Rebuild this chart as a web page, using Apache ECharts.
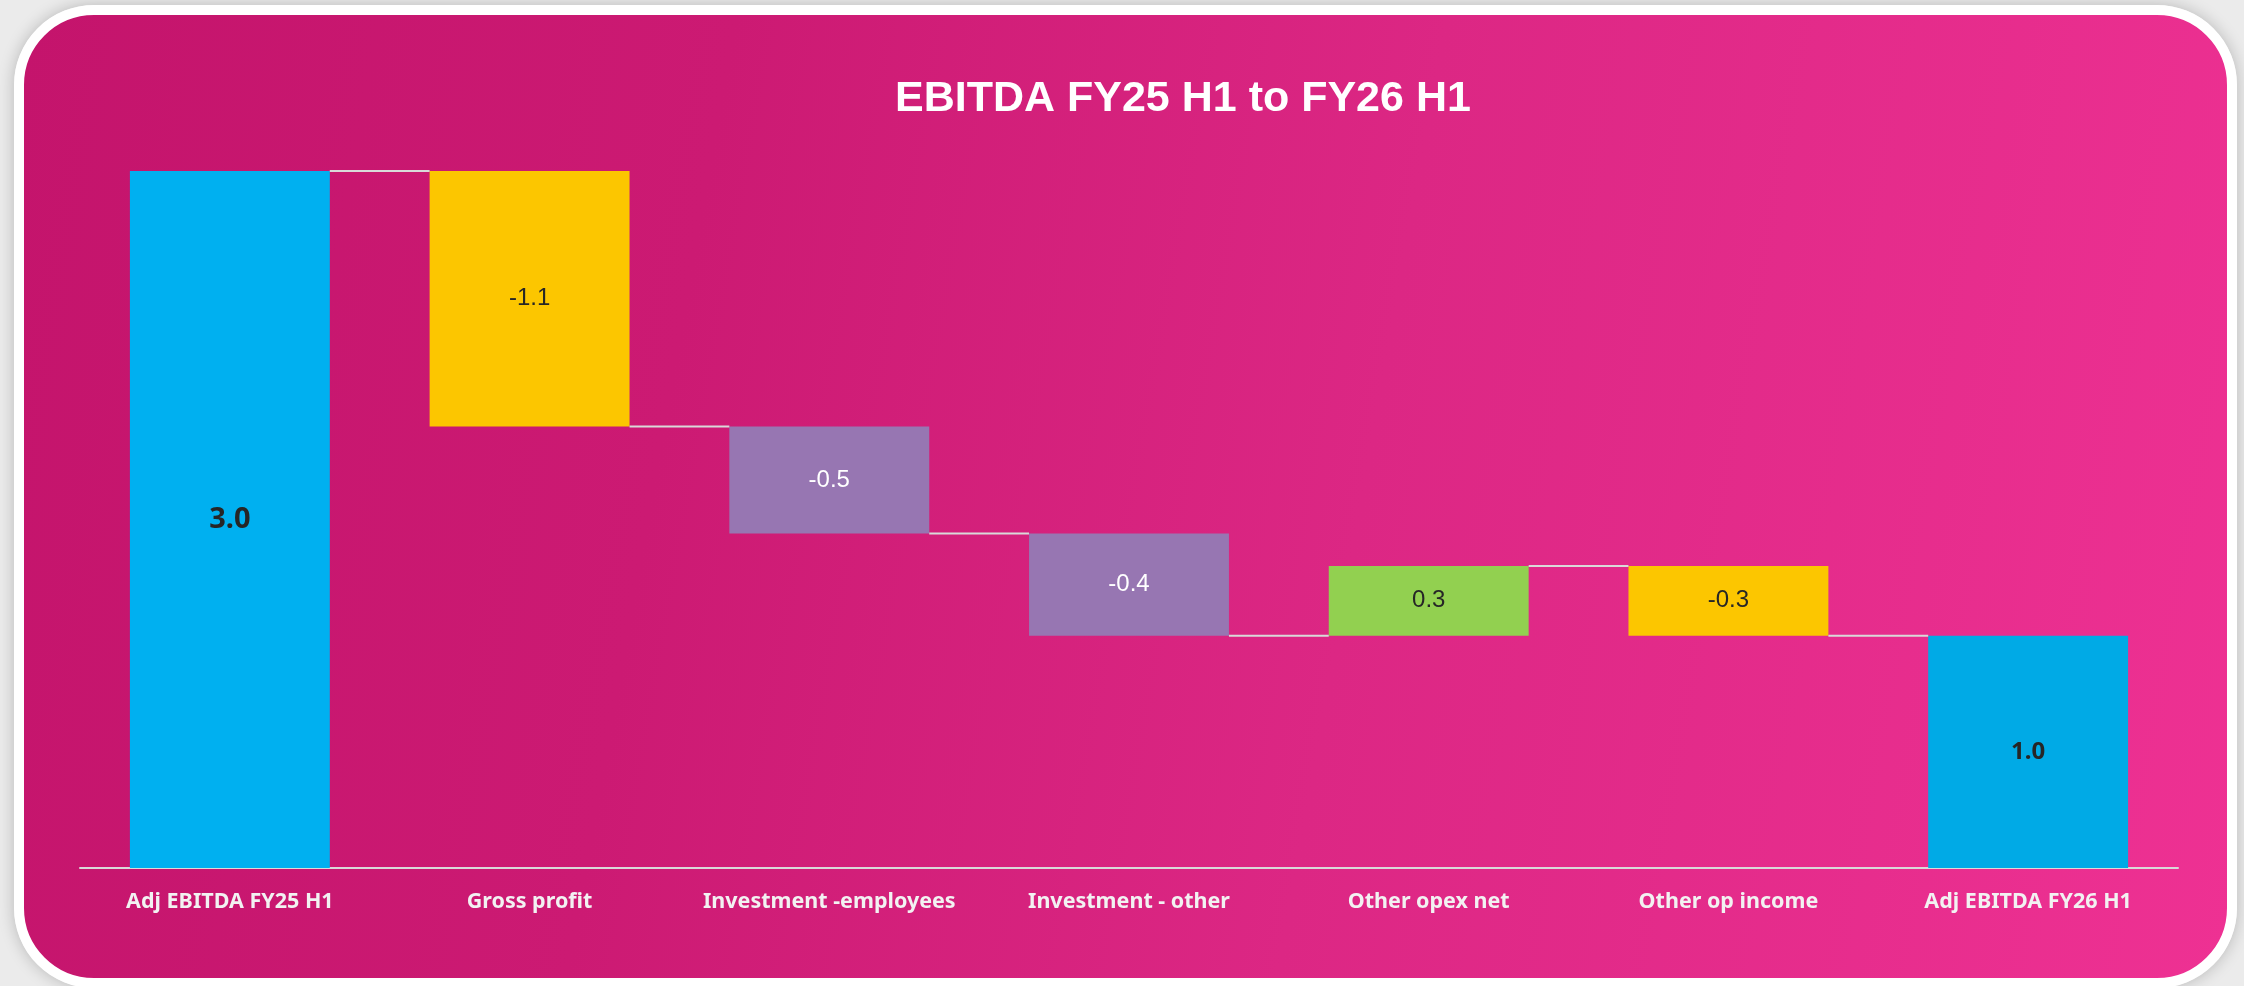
<!DOCTYPE html>
<html>
<head>
<meta charset="utf-8">
<title>EBITDA FY25 H1 to FY26 H1</title>
<script src="https://cdn.jsdelivr.net/npm/echarts@6/dist/echarts.min.js"></script>
<style>
  html, body { margin: 0; padding: 0; width: 2244px; height: 986px; overflow: hidden; background: #ebebeb; }
  .card {
    position: absolute; left: 14px; top: 5px; width: 2203px; height: 963px;
    border: 10px solid #fff; border-radius: 80px;
    background: linear-gradient(100deg, #c4146c 0%, #cc1a73 30%, #dc2784 60%, #ee3193 100%);
    box-shadow: 0 0 16px rgba(0, 0, 0, 0.22);
  }
  #chart { position: absolute; left: 0; top: 0; width: 2244px; height: 986px; }
</style>
</head>
<body>
<div class="card"></div>
<div id="chart"></div>
<script>
// waterfall data (first and last are totals, the rest are changes)
const categories = ['Adj EBITDA FY25 H1', 'Gross profit', 'Investment -employees', 'Investment - other', 'Other opex net', 'Other op income', 'Adj EBITDA FY26 H1']
const values = [3.0, -1.1, -0.46, -0.44, 0.30, -0.30, 1.0]
const isTotal = [true, false, false, false, false, false, true]

const barColors = ['#00b0f0', '#fcc600', '#9776b2', '#9776b2', '#92d050', '#fcc600', '#00aae6']
const labelColors = ['#262626', '#262626', '#ffffff', '#ffffff', '#262626', '#262626', '#262626']

// build invisible base + visible part, and connector levels
const base = []
const heights = []
const levels = []
let running = 0
values.forEach((v, i) => {
  if (isTotal[i]) {
    base.push(0)
    heights.push(v)
    running = v
  } else if (v < 0) {
    base.push(running + v)
    heights.push(-v)
    running += v
  } else {
    base.push(running)
    heights.push(v)
    running += v
  }
  levels.push(running)
})

const barData = heights.map((h, i) => {
  const bold = isTotal[i]
  return {
    value: h,
    itemStyle: { color: barColors[i] },
    label: {
      color: labelColors[i],
      fontWeight: bold ? 'bold' : 'normal',
      fontSize: i === 0 ? 29 : 24,
      fontFamily: bold ? 'Noto Sans' : 'Liberation Sans'
    }
  }
})

const connectors = levels.slice(0, -1).map((l, i) => [i, l])

const chart = echarts.init(document.getElementById('chart'))
chart.setOption({
  backgroundColor: 'transparent',
  animation: false,
  title: {
    text: 'EBITDA FY25 H1 to FY26 H1',
    left: 895,
    top: 78,
    padding: 0,
    textStyle: { color: '#ffffff', fontSize: 43, fontWeight: 'bold', fontFamily: 'Liberation Sans' }
  },
  grid: { left: 80, right: 66, top: 171, bottom: 118 },
  xAxis: {
    type: 'category',
    data: categories,
    axisLine: { lineStyle: { color: '#d9d9d9', width: 2 } },
    axisTick: { show: false },
    axisLabel: {
      color: '#f2f2f2',
      fontFamily: 'Noto Sans',
      fontWeight: 'bold',
      fontSize: 21.5,
      margin: 23,
      interval: 0
    }
  },
  yAxis: { type: 'value', min: 0, max: 3, show: false },
  series: [
    {
      type: 'bar',
      stack: 'w',
      barWidth: '66.7%',
      silent: true,
      itemStyle: { color: 'transparent' },
      data: base
    },
    {
      type: 'bar',
      stack: 'w',
      barWidth: '66.7%',
      label: {
        show: true,
        position: 'inside',
        formatter: (p) => values[p.dataIndex].toFixed(1)
      },
      data: barData
    },
    {
      type: 'custom',
      silent: true,
      z: 5,
      renderItem: (params, api) => {
        const p = api.coord([api.value(0), api.value(1)])
        const w = api.size([1, 0])[0]
        const half = w * 0.667 / 2
        return {
          type: 'line',
          shape: { x1: p[0] + half, y1: p[1], x2: p[0] + w - half, y2: p[1] },
          style: { stroke: '#d9d9d9', lineWidth: 2 }
        }
      },
      data: connectors
    }
  ]
})

window.addEventListener('resize', () => {
  chart.resize()
})
</script>
</body>
</html>
